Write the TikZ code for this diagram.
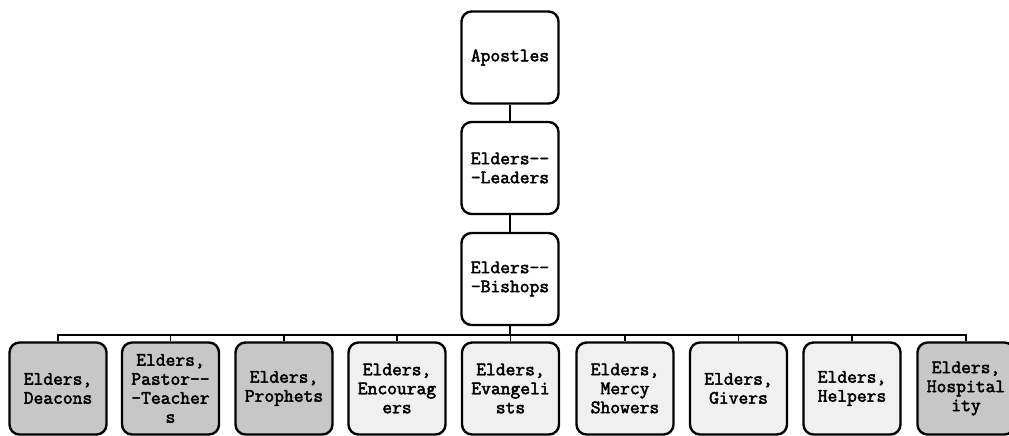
\documentclass[tikz,border=0pt]{standalone}
\usepackage{fontspec}
\newfontfamily\courfont{Latin Modern Mono}[FakeBold=2.5]
\begin{document}
\begin{tikzpicture}[x=1pt,y=-1pt,
  box/.style={draw=black, line width=2.4pt, rounded corners=10pt, minimum width=97pt, minimum height=92pt, inner sep=0pt, align=center, font=\fontsize{19}{19}\selectfont\courfont},
  dense/.style={box, fill=black!22},
  light/.style={box, fill=black!6},
  conn/.style={line width=1.8pt}]
\useasboundingbox (0,0) rectangle (1009,436);
\node[box] (ap) at (510,57.5) {Apostles};
\node[box] (el) at (510,168) {Elders--\\-Leaders};
\node[box] (bi) at (510,279) {Elders--\\-Bishops};
\coordinate (busy) at (0,335);
\node[dense] (b1) at (58,388.5) {Elders,\\Deacons};
\node[dense] (b2) at (170.5,388.5) {Elders,\\Pastor--\\-Teacher\\s};
\node[dense] (b3) at (284,388.5) {Elders,\\Prophets};
\node[light] (b4) at (397,388.5) {Elders,\\Encourag\\ers};
\node[light] (b5) at (510.5,388.5) {Elders,\\Evangeli\\sts};
\node[light] (b6) at (625,388.5) {Elders,\\Mercy\\Showers};
\node[light] (b7) at (738.5,388.5) {Elders,\\Givers};
\node[light] (b8) at (852,388.5) {Elders,\\Helpers};
\node[dense] (b9) at (966,388.5) {Elders,\\Hospital\\ity};
\draw[conn] (ap.south) -- (el.north);
\draw[conn] (el.south) -- (bi.north);
\draw[conn] (bi.south) -- (bi.south|-busy);
\draw[conn] (b1.north) -- (b1.north|-busy) -- (b9.north|-busy) -- (b9.north);
\foreach \i in {2,...,8} {
  \draw[conn] (b\i.north) -- (b\i.north|-busy);
}
\end{tikzpicture}
\end{document}
